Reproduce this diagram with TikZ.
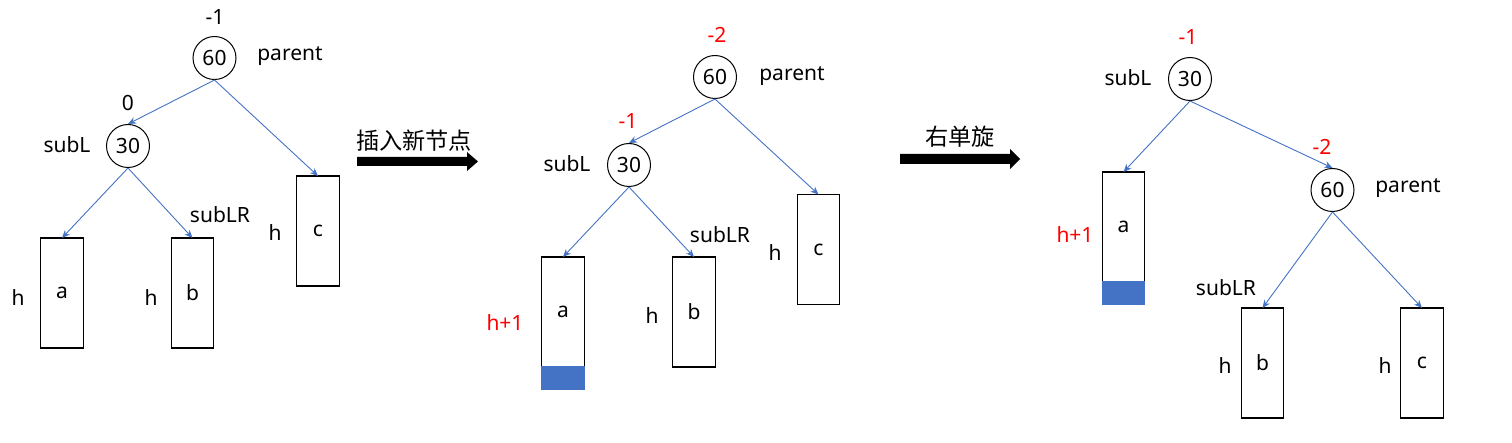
\documentclass[tikz,border=0pt]{standalone}
\usepackage{fontspec}
\setmainfont{Noto Sans}
\newfontfamily\cjk{Noto Sans CJK SC}
\usetikzlibrary{arrows.meta}
\definecolor{office-blue}{RGB}{68,114,196}

\tikzset{
    key/.style={circle, draw, line width=0.5pt, minimum size=21.5pt, inner sep=0pt},
    subtree/.style={draw, line width=0.65pt, minimum width=21.25pt, minimum height=55pt, inner sep=0pt, outer sep=0pt},
    grown/.style={draw=office-blue, line width=0.65pt, fill=office-blue, minimum width=21.25pt, minimum height=11.25pt, inner sep=0pt, outer sep=0pt, anchor=north},
    link/.style={->, draw=office-blue, line width=0.45pt},
    bal/.style={text=red},
    step label/.style={font=\cjk\fontsize{11.6}{13}\selectfont}
}

\begin{document}
\begin{tikzpicture}[
    x=0.5pt, y=-0.5pt,
    font=\fontsize{10.5}{12}\selectfont,
    >={Stealth[length=4pt,width=3.4pt]}]
    \useasboundingbox (0,0) rectangle (1512,443);

    \node at (215,17) (bp1) {-1};
    \node[key] at (214.5,58) (p1) {60};
    \node at (290,56) {parent};
    \node at (128,103) (bl1) {0};
    \node[key] at (128,146) (l1) {30};
    \node at (67,145) {subL};
    \node[subtree] at (62,293) (a1) {a};
    \node[subtree] at (192.5,293) (b1) {b};
    \node[subtree] at (318,231) (c1) {c};
    \node at (18,298) {h};
    \node at (151,298) {h};
    \node at (275,233) {h};
    \node at (220,215) {subLR};

    \draw[link] (p1.south) -- (l1.north);
    \draw[link] (p1.south) -- (c1.north);
    \draw[link] (l1.south) -- (a1.north);
    \draw[link] (l1.south) -- (b1.north);

    \node[step label] at (414,141) (insert) {插入新节点};
    \fill (357,157) -- (467,157) -- (467,152) -- (478,161.5) -- (467,171) -- (467,166) -- (357,166) -- cycle;


    % after insert

    \node[bal] at (717,35) (bp2) {-2};
    \node[key] at (715,77) (p2) {60};
    \node at (792,76) {parent};
    \node[bal] at (628,121) (bl2) {-1};
    \node[key] at (629,165) (l2) {30};
    \node at (567,164) {subL};
    \node[subtree] at (563,312) (a2) {a};
    \node[grown] at (a2.south) (new2) {};
    \node[subtree] at (694,312) (b2) {b};
    \node[subtree] at (818.5,249.5) (c2) {c};
    \node[bal] at (505,323) {h+1};
    \node at (652,316) {h};
    \node at (775,253) {h};
    \node at (720,235) {subLR};

    \draw[link] (p2.south) -- (l2.north);
    \draw[link] (p2.south) -- (c2.north);
    \draw[link] (l2.south) -- (a2.north);
    \draw[link] (l2.south) -- (b2.north);

    \node[step label] at (960,137) (rotate) {右单旋};
    \fill (900,154) -- (1010,154) -- (1010,149) -- (1020,159) -- (1010,169) -- (1010,164) -- (900,164) -- cycle;


    % after rotate

    \node[bal] at (1188,37) (bl3) {-1};
    \node[key] at (1190,79) (l3) {30};
    \node at (1128,78) {subL};
    \node[bal] at (1322,147) (bp3) {-2};
    \node[key] at (1332.5,190) (p3) {60};
    \node at (1408,188) {parent};
    \node[subtree] at (1123.5,227) (a3) {a};
    \node[grown] at (a3.south) (new3) {};
    \node[subtree] at (1262.5,363) (b3) {b};
    \node[subtree] at (1422,363) (c3) {c};
    \node[bal] at (1075,235) {h+1};
    \node at (1226,288) {subLR};
    \node at (1225,366) {h};
    \node at (1385,366) {h};

    \draw[link] (l3.south) -- (a3.north);
    \draw[link] (l3.south) -- (p3.north);
    \draw[link] (p3.south) -- (b3.north);
    \draw[link] (p3.south) -- (c3.north);

\end{tikzpicture}
\end{document}
